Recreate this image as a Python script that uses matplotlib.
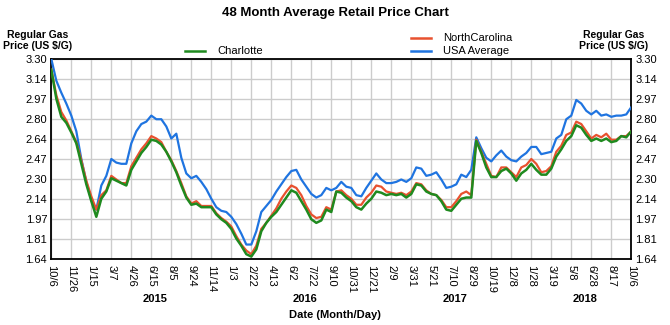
import numpy as np
import pandas as pd
import matplotlib
matplotlib.use("Agg")
import matplotlib.pyplot as plt
from matplotlib.lines import Line2D

plt.rcParams["font.family"] = ["Liberation Sans", "DejaVu Sans"]

START, END = "2014-10-06", "2018-10-06"
N_OBS = 117

usa = [3.30, 3.12, 3.02, 2.93, 2.83, 2.70, 2.47, 2.28, 2.13, 2.05,
       2.25, 2.33, 2.47, 2.44, 2.43, 2.43, 2.60, 2.70, 2.76, 2.78,
       2.83, 2.80, 2.80, 2.74, 2.64, 2.68, 2.48, 2.35, 2.31, 2.33,
       2.28, 2.22, 2.14, 2.07, 2.04, 2.03, 1.99, 1.93, 1.85, 1.76,
       1.76, 1.87, 2.03, 2.08, 2.13, 2.20, 2.26, 2.32, 2.37, 2.38,
       2.30, 2.24, 2.18, 2.15, 2.17, 2.23, 2.21, 2.23, 2.28, 2.24,
       2.23, 2.17, 2.16, 2.23, 2.29, 2.35, 2.30, 2.27, 2.27, 2.28,
       2.30, 2.28, 2.31, 2.40, 2.39, 2.33, 2.34, 2.36, 2.30, 2.23,
       2.24, 2.26, 2.34, 2.32, 2.38, 2.65, 2.56, 2.48, 2.45, 2.50,
       2.54, 2.49, 2.46, 2.45, 2.49, 2.52, 2.57, 2.57, 2.51, 2.52,
       2.53, 2.64, 2.67, 2.80, 2.83, 2.96, 2.93, 2.87, 2.84, 2.87,
       2.83, 2.84, 2.82, 2.83, 2.83, 2.84, 2.90]

north_carolina = [3.21, 3.00, 2.86, 2.79, 2.70, 2.61, 2.46, 2.29, 2.16, 2.05,
                  2.17, 2.21, 2.33, 2.30, 2.27, 2.27, 2.41, 2.48, 2.55, 2.60,
                  2.66, 2.64, 2.61, 2.53, 2.46, 2.37, 2.27, 2.16, 2.10, 2.12,
                  2.08, 2.08, 2.08, 2.02, 1.98, 1.95, 1.91, 1.83, 1.76, 1.71,
                  1.68, 1.75, 1.89, 1.94, 2.00, 2.06, 2.14, 2.20, 2.25, 2.23,
                  2.17, 2.08, 2.01, 1.98, 1.99, 2.07, 2.05, 2.20, 2.21, 2.17,
                  2.14, 2.09, 2.09, 2.15, 2.19, 2.25, 2.24, 2.20, 2.19, 2.18,
                  2.19, 2.17, 2.20, 2.27, 2.26, 2.21, 2.18, 2.17, 2.13, 2.07,
                  2.07, 2.12, 2.18, 2.20, 2.17, 2.63, 2.53, 2.43, 2.33, 2.32,
                  2.40, 2.40, 2.36, 2.32, 2.40, 2.42, 2.47, 2.43, 2.36, 2.37,
                  2.41, 2.53, 2.58, 2.67, 2.69, 2.78, 2.76, 2.70, 2.64, 2.67,
                  2.65, 2.68, 2.63, 2.63, 2.66, 2.66, 2.70]

charlotte = [3.21, 2.97, 2.82, 2.77, 2.69, 2.60, 2.43, 2.26, 2.12, 1.99,
             2.14, 2.20, 2.31, 2.29, 2.27, 2.25, 2.38, 2.45, 2.52, 2.57,
             2.63, 2.62, 2.59, 2.53, 2.45, 2.36, 2.25, 2.15, 2.09, 2.10,
             2.07, 2.07, 2.07, 2.01, 1.97, 1.94, 1.89, 1.81, 1.75, 1.68,
             1.66, 1.72, 1.87, 1.94, 1.99, 2.03, 2.09, 2.15, 2.21, 2.19,
             2.12, 2.05, 1.97, 1.94, 1.96, 2.05, 2.03, 2.20, 2.19, 2.15,
             2.12, 2.07, 2.05, 2.10, 2.14, 2.20, 2.19, 2.17, 2.18, 2.17,
             2.18, 2.15, 2.18, 2.26, 2.25, 2.20, 2.18, 2.17, 2.12, 2.05,
             2.04, 2.09, 2.14, 2.15, 2.15, 2.62, 2.52, 2.40, 2.32, 2.32,
             2.37, 2.39, 2.35, 2.29, 2.35, 2.38, 2.43, 2.38, 2.34, 2.34,
             2.39, 2.49, 2.55, 2.62, 2.66, 2.75, 2.73, 2.67, 2.62, 2.64,
             2.62, 2.64, 2.61, 2.62, 2.66, 2.65, 2.70]

y_ticklabels = ["1.64", "1.81", "1.97", "2.14", "2.30", "2.47",
                "2.64", "2.80", "2.97", "3.14", "3.30"]
x_ticklabels = ["10/6", "11/26", "1/15", "3/7", "4/26", "6/15", "8/5", "9/24",
                "11/14", "1/3", "2/22", "4/13", "6/2", "7/22", "9/10", "10/31",
                "12/21", "2/9", "3/31", "5/21", "7/10", "8/29", "10/19", "12/8",
                "1/28", "3/19", "5/8", "6/28", "8/17", "10/6"]
years = ["2015", "2016", "2017", "2018"]

GREEN, RED, BLUE, GRID = "#1f8a1f", "#e8512f", "#1f74e0", "#cccccc"

dates = pd.date_range(START, END, periods=N_OBS)
ticks = pd.date_range(START, END, periods=len(x_ticklabels))

fig = plt.figure(figsize=(6.7, 3.25), dpi=100)
ax = fig.add_axes([0.0766, 0.2031, 0.8656, 0.6154])

ax.plot(dates, usa, color=BLUE, lw=1.6, zorder=3)
ax.plot(dates, north_carolina, color=RED, lw=1.6, zorder=4)
ax.plot(dates, charlotte, color=GREEN, lw=1.8, zorder=5)

yt = np.linspace(1.64, 3.30, len(y_ticklabels))
ax.set_ylim(1.64, 3.30)
ax.set_xlim(dates[0], dates[-1])
ax.set_yticks(yt)
ax.set_yticklabels(y_ticklabels)
ax.set_xticks(ticks)
ax.set_xticklabels(x_ticklabels, rotation=-90, va="top", ha="center")
ax.grid(True, color=GRID, lw=1)
ax.set_axisbelow(True)
ax.tick_params(length=0, labelsize=8, pad=3)
ax.tick_params(axis="x", pad=4)
for s in ax.spines.values():
    s.set_linewidth(1.3)

ax2 = ax.twinx()
ax2.set_ylim(1.64, 3.30)
ax2.set_yticks(yt)
ax2.set_yticklabels(y_ticklabels)
ax2.tick_params(length=0, labelsize=8, pad=3)
for s in ax2.spines.values():
    s.set_visible(False)

# year labels under the tick labels
for yr, xf in zip(years, [0.231, 0.455, 0.679, 0.873]):
    fig.text(xf, 0.08, yr, ha="center", va="center",
             fontsize=8, fontweight="bold")

fig.text(0.5, 0.96, "48 Month Average Retail Price Chart", ha="center",
         va="center", fontsize=9.5, fontweight="bold")
fig.text(0.056, 0.875, "Regular Gas\nPrice (US \\$/G)", ha="center", va="center",
         fontsize=7.5, fontweight="bold", linespacing=1.1)
fig.text(0.916, 0.875, "Regular Gas\nPrice (US \\$/G)", ha="center", va="center",
         fontsize=7.5, fontweight="bold", linespacing=1.1)
fig.text(0.5, 0.031, "Date (Month/Day)", ha="center", va="center",
         fontsize=8, fontweight="bold")

# legend entries
for (x0, y0, col, name) in [(185, 51, GREEN, "Charlotte"),
                            (411, 38, RED, "NorthCarolina"),
                            (411, 51, BLUE, "USA Average")]:
    fy = 1 - y0 / 325
    fig.add_artist(Line2D([x0 / 670, (x0 + 20) / 670], [fy, fy], color=col, lw=1.8))
    fig.text((x0 + 32) / 670, fy, name, ha="left", va="center", fontsize=8)

fig.savefig("out.png", dpi=100)
